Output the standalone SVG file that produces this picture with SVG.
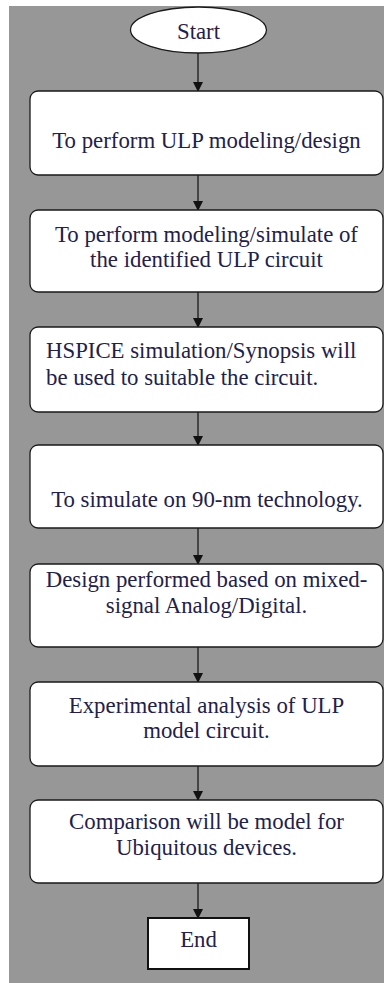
<svg xmlns="http://www.w3.org/2000/svg" width="384" height="983" viewBox="0 0 384 983">
<style>
.box{fill:#ffffff;stroke:#1a1a1a;stroke-width:1.3}
.t{font-family:'Liberation Serif','Times New Roman','DejaVu Serif',serif;font-size:22.8px;fill:#22214a;text-anchor:middle}
.tl{text-anchor:start}
.conn line{stroke:#1a1a1a;stroke-width:1.3}
</style>
<defs>
<marker id="ah" markerWidth="10" markerHeight="10" refX="9" refY="5" orient="auto" markerUnits="userSpaceOnUse">
<path d="M0,0 L10,5 L0,10 Z" fill="#111"/>
</marker>
</defs>
<rect x="9" y="6" width="375" height="977" fill="#979797"/>
<g class="conn">
<line x1="198" y1="53" x2="198" y2="91" marker-end="url(#ah)"/>
<line x1="198" y1="175" x2="198" y2="210" marker-end="url(#ah)"/>
<line x1="198" y1="292" x2="198" y2="327" marker-end="url(#ah)"/>
<line x1="198" y1="412" x2="198" y2="445" marker-end="url(#ah)"/>
<line x1="198" y1="528" x2="198" y2="564" marker-end="url(#ah)"/>
<line x1="198" y1="647" x2="198" y2="682" marker-end="url(#ah)"/>
<line x1="198" y1="766" x2="198" y2="800" marker-end="url(#ah)"/>
<line x1="198" y1="883" x2="198" y2="918" marker-end="url(#ah)"/>
</g>
<g id="start">
<ellipse cx="198.5" cy="30" rx="68" ry="23" class="box"/>
<text x="198.5" y="39" class="t">Start</text>
</g>
<g id="step1">
<rect x="30" y="91" width="353" height="84" rx="8" class="box"/>
<text x="206.5" y="148" class="t">To perform ULP modeling/design</text>
</g>
<g id="step2">
<rect x="30" y="210" width="353" height="82" rx="8" class="box"/>
<text x="206.5" y="242" class="t">To perform modeling/simulate of</text>
<text x="206.5" y="267" class="t">the identified ULP circuit</text>
</g>
<g id="step3">
<rect x="30" y="327" width="353" height="85" rx="8" class="box"/>
<text x="46" y="358" class="t tl">HSPICE simulation/Synopsis will</text>
<text x="46" y="385" class="t tl">be used to suitable the circuit.</text>
</g>
<g id="step4">
<rect x="30" y="445" width="353" height="83" rx="8" class="box"/>
<text x="207" y="507" class="t">To simulate on 90-nm technology.</text>
</g>
<g id="step5">
<rect x="30" y="564" width="353" height="83" rx="8" class="box"/>
<text x="206.5" y="587" class="t">Design performed based on mixed-</text>
<text x="206.5" y="613" class="t">signal Analog/Digital.</text>
</g>
<g id="step6">
<rect x="30" y="682" width="353" height="84" rx="8" class="box"/>
<text x="206.5" y="713" class="t">Experimental analysis of ULP</text>
<text x="206.5" y="738" class="t">model circuit.</text>
</g>
<g id="step7">
<rect x="30" y="800" width="353" height="83" rx="8" class="box"/>
<text x="206.5" y="829" class="t">Comparison will be model for</text>
<text x="206.5" y="855" class="t">Ubiquitous devices.</text>
</g>
<g id="end">
<rect x="148" y="918" width="101" height="51" fill="#fff" stroke="#111" stroke-width="2"/>
<text x="198.5" y="947" class="t">End</text>
</g>
</svg>
